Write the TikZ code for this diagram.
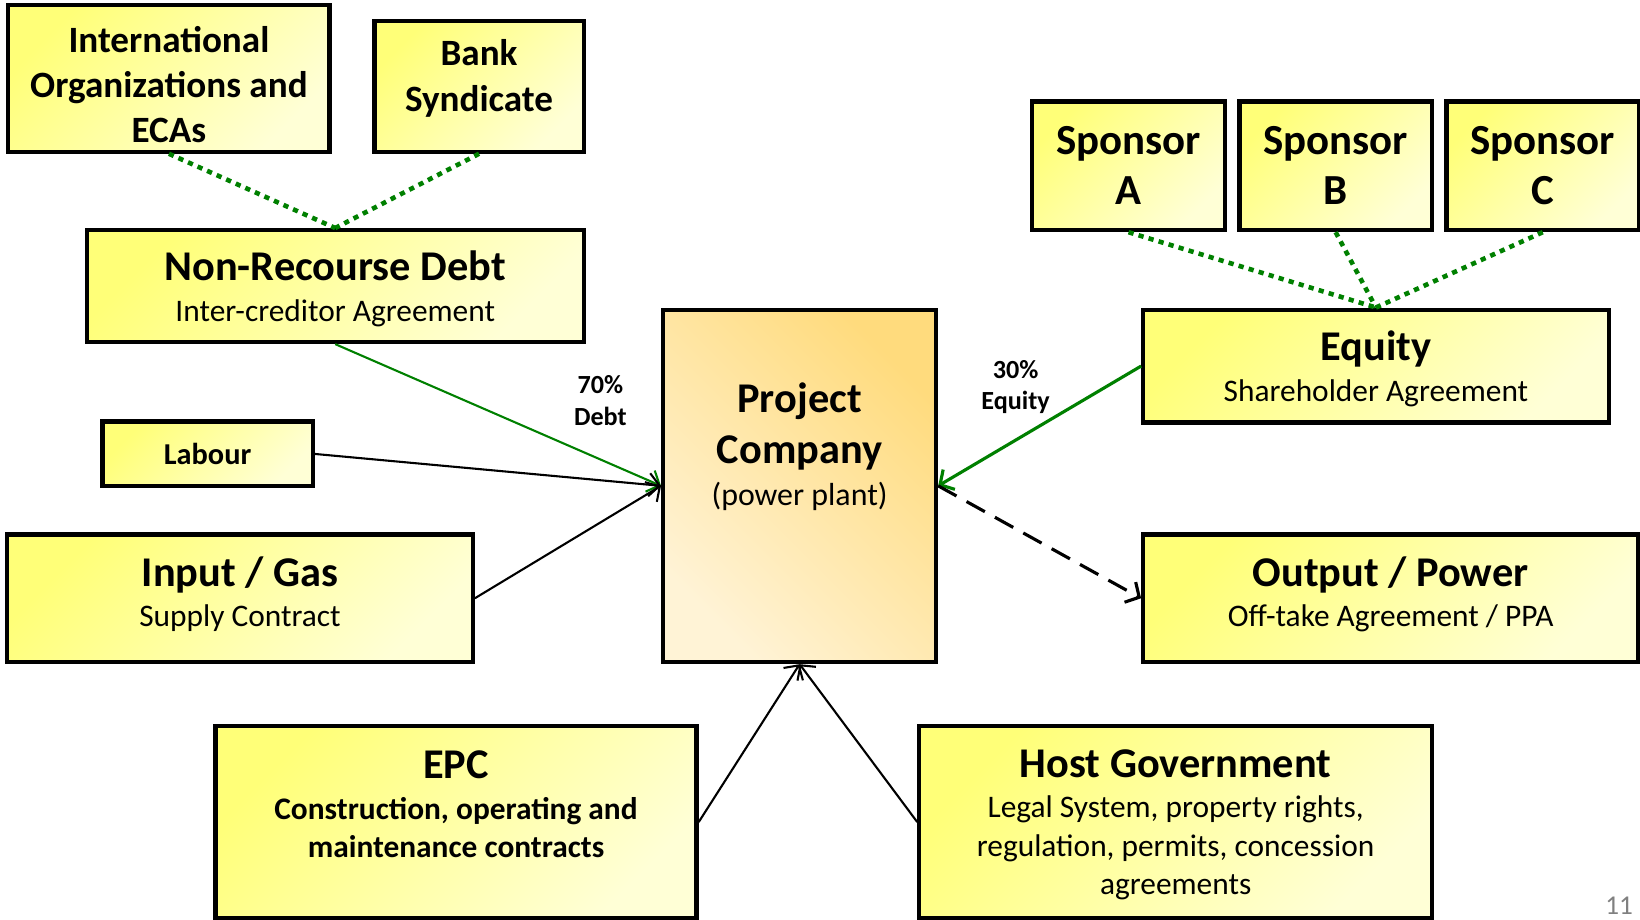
\documentclass[tikz,border=0pt]{standalone}
\usepackage{fontspec}
\setmainfont{Carlito}
\usepackage{tikz}
\usetikzlibrary{shapes,arrows.meta,positioning}
\definecolor{paleyellow}{RGB}{255,255,214}
\definecolor{deepyellow}{RGB}{255,255,120}
\definecolor{paleorange}{RGB}{255,243,214}
\definecolor{deeporange}{RGB}{255,219,125}
\definecolor{money}{RGB}{0,128,0}
\definecolor{pagegray}{RGB}{128,128,128}
\tikzstyle{party} = [rectangle, draw=black, line width=4pt, left color=deepyellow, right color=paleyellow, shading angle=45, text=black, align=center, inner sep=0pt, font=\fontsize{30}{37}\selectfont]
\tikzstyle{sponsor} = [party, minimum width=184pt, minimum height=123pt, font=\fontsize{41}{48}\selectfont\bfseries]
\tikzstyle{company} = [rectangle, draw=black, line width=4pt, top color=deeporange, bottom color=paleorange, shading angle=-45, text=black, align=center, inner sep=0pt, font=\fontsize{30.5}{42}\selectfont]
\tikzstyle{textonly} = [draw=none, fill=none, align=center, font=\fontsize{25}{30}\selectfont\bfseries]
\tikzstyle{tie} = [draw=money, line width=4.4pt, dash pattern=on 5pt off 5pt]
\tikzstyle{tedge} = [draw, line width=2pt, -{Straight Barb[length=10pt,width=22pt]}]
\newcommand{\headline}[1]{{\fontsize{40.5}{46}\selectfont\bfseries #1}}

\begin{document}
\begin{tikzpicture}[x=1pt, y=-1pt]
\useasboundingbox (0,0) rectangle (1568,879);

% parties =============================
\node[company, minimum width=261pt, minimum height=337pt, text depth=80pt] (pc) at (764.5,464.5) {\headline{Project}\\[7pt]\headline{Company}\\[-2pt](power plant)};
\node[party, minimum width=307pt, minimum height=140pt, text height=122pt, font=\fontsize{35.5}{43}\selectfont\bfseries] (intl) at (161.5,75) {International\\Organizations and\\ECAs};
\node[party, minimum width=200pt, minimum height=125pt, text depth=20pt, font=\fontsize{35.5}{44}\selectfont\bfseries] (bank) at (458,82.5) {Bank\\Syndicate};
\node[party, minimum width=475pt, minimum height=107pt, text depth=0pt] (nrd) at (320.5,273.5) {\headline{Non-Recourse Debt}\\[1.5pt]Inter-creditor Agreement};
\node[party, minimum width=201pt, minimum height=62pt, font=\fontsize{29}{30}\selectfont\bfseries] (lab) at (198.5,434) {Labour};
\node[party, minimum width=445pt, minimum height=122pt, text depth=12pt] (gas) at (229.5,572) {\headline{Input / Gas}\\[1.5pt]Supply Contract};
\node[sponsor] (spa) at (1079,158.5) {Sponsor\\A};
\node[sponsor, right=10pt of spa] (spb) {Sponsor\\B};
\node[sponsor, right=10pt of spb] (spc) {Sponsor\\C};
\node[party, minimum width=445pt, minimum height=108pt, text depth=0pt] (eq) at (1315.5,350) {\headline{Equity}\\[1.5pt]Shareholder Agreement};
\node[party, minimum width=473pt, minimum height=122pt, text depth=12pt] (out) at (1329.5,572) {\headline{Output / Power}\\[1.5pt]Off-take Agreement / PPA};
\node[party, minimum width=460pt, minimum height=184pt, text depth=34pt] (epc) at (436,786) {\headline{EPC}\\[1.5pt]\textbf{Construction, operating and}\\\textbf{maintenance contracts}};
\node[party, minimum width=490pt, minimum height=184pt, text depth=0pt] (host) at (1124,786) {\headline{Host Government}\\[1.5pt]Legal System, property rights,\\regulation, permits, concession\\agreements};

% shares
\node[textonly] (debtshare) at (574,383) {70\%\\Debt};
\node[textonly] (eqshare) at (971,370) {30\%\\Equity};
\node[text=pagegray, font=\fontsize{26}{30}\selectfont] (page) at (1548,866) {11};

% edges
\path[tie] (intl.south) -- (nrd.north);
\path[tie] (bank.south) -- (nrd.north);
\path[tie] (spa.south) -- (eq.north);
\path[tie] (spb.south) -- (eq.north);
\path[tie] (spc.south) -- (eq.north);
\path[tedge, draw=money] (nrd.south) -- (pc.west);
\path[tedge] (lab.east) -- (pc.west);
\path[tedge] (gas.east) -- (pc.west);
\path[tedge, draw=money, line width=3pt] (eq.west) -- (pc.east);
\path[tedge, line width=3pt, dash pattern=on 20pt off 11pt] (pc.east) -- (out.west);
\path[tedge] (epc.east) -- (pc.south);
\path[tedge] (host.west) -- (pc.south);

\end{tikzpicture}
\end{document}
